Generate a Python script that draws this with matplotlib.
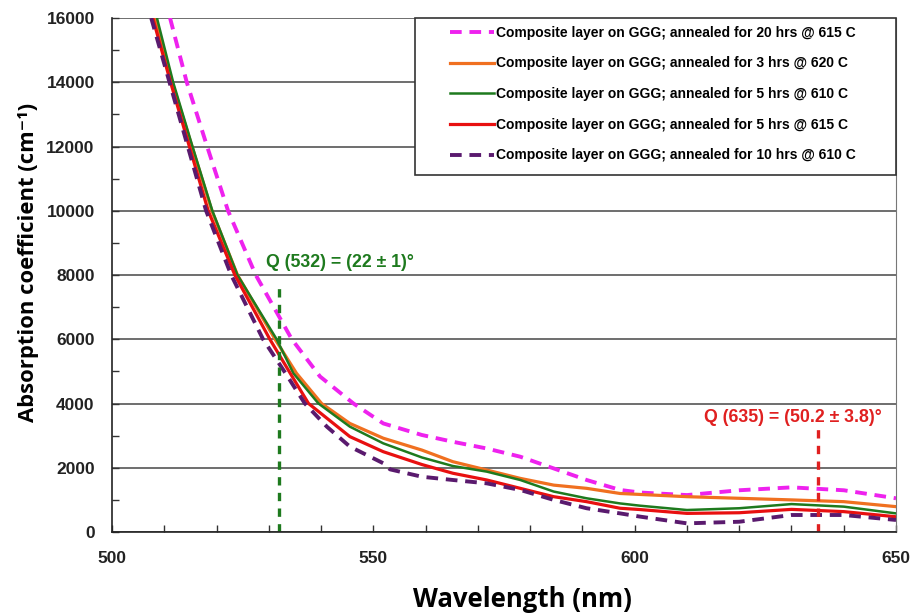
"""Absorption coefficient vs wavelength for annealed composite layers."""

import matplotlib

matplotlib.use("Agg")
import matplotlib.pyplot as plt
from matplotlib.patches import Rectangle
from matplotlib.ticker import MultipleLocator

plt.rcParams["font.family"] = ["Liberation Sans", "DejaVu Sans"]

# 20 hrs @ 615 C (magenta dashed)
wl_20h = [511.1, 514.3, 518.2, 522.2, 527.5, 534.4, 539.8, 546.2, 551.9, 559.3, 565.2, 571.7,
          578.1, 584.5, 590.8, 597.2, 601, 610, 620, 630, 640, 650]
ac_20h = [16000, 14000, 12000, 10000, 8000, 6000, 4840, 4000, 3380, 3020, 2810, 2600,
          2345, 1980, 1620, 1310, 1230, 1150, 1300, 1390, 1300, 1050]

# 3 hrs @ 620 C (orange)
wl_3h = [508.2, 511.5, 515.3, 519.1, 524.0, 531.2, 535.3, 540.1, 545.5, 551.9, 559.3, 565.2,
         571.7, 578.1, 584.5, 590.8, 597.2, 601, 610, 620, 630, 640, 650]
ac_3h = [16000, 14000, 12000, 10000, 8000, 6000, 4940, 4000, 3380, 2920, 2550, 2190,
         1930, 1670, 1460, 1360, 1200, 1170, 1100, 1050, 1000, 945, 790]

# 5 hrs @ 610 C (green)
wl_5h610 = [508.6, 511.7, 515.4, 519.2, 524.0, 531.5, 534.7, 539.5, 545.5, 551.9, 559.3, 565.2,
            571.7, 578.1, 584.5, 590.8, 597.2, 601, 610, 620, 630, 640, 650]
ac_5h610 = [16000, 14000, 12000, 10000, 8000, 6000, 4940, 4000, 3280, 2760, 2320, 2055,
            1880, 1620, 1260, 1050, 890, 820, 685, 740, 870, 790, 580]

# 5 hrs @ 615 C (red)
wl_5h615 = [507.8, 511.2, 514.8, 518.4, 523.5, 530.2, 534.1, 537.6, 545.5, 551.9, 559.3, 565.2,
            571.7, 578.1, 584.5, 590.8, 597.2, 601, 610, 620, 630, 640, 650]
ac_5h615 = [16000, 14000, 12000, 10000, 8000, 6000, 4940, 4000, 2970, 2500, 2100, 1830,
            1620, 1360, 1100, 945, 740, 700, 580, 600, 705, 635, 475]

# 10 hrs @ 610 C (purple dashed)
wl_10h = [507.5, 511, 514.5, 518, 522.8, 528.9, 533.2, 536.9, 541.1, 545.5, 551.9, 553.2,
          559.3, 565.2, 571.7, 578.1, 584.5, 590.8, 597.2, 601, 610, 620, 630, 640, 650]
ac_10h = [16000, 14000, 12000, 10000, 8000, 6000, 4940, 4000, 3280, 2660, 2140, 1950,
          1720, 1620, 1515, 1310, 1000, 740, 580, 480, 270, 320, 530, 530, 375]

labels = [
    "Composite layer on GGG; annealed for 20 hrs @ 615 C",
    "Composite layer on GGG; annealed for 3 hrs @ 620 C",
    "Composite layer on GGG; annealed for 5 hrs @ 610 C",
    "Composite layer on GGG; annealed for 5 hrs @ 615 C",
    "Composite layer on GGG; annealed for 10 hrs @ 610 C",
]

# marked wavelengths, heights of the dashed markers and their notes
q_wl = [532, 635]
q_top = [7780, 3280]
q_text = ["Q (532) = (22 ± 1)°", "Q (635) = (50.2 ± 3.8)°"]

fig = plt.figure(figsize=(9.13, 6.13), dpi=100, facecolor="white")
ax = fig.add_axes([0.1227, 0.1321, 0.8587, 0.8385])

ax.yaxis.grid(True, color="#555555", linewidth=1.2)
ax.set_axisbelow(True)

dash = (3.0, 2.0)
ax.plot(wl_20h, ac_20h, color="#ee22ee", lw=2.8, dashes=dash, label=labels[0])
ax.plot(wl_3h, ac_3h, color="#f07020", lw=2.3, label=labels[1])
ax.plot(wl_5h610, ac_5h610, color="#1e7a1e", lw=1.8, label=labels[2])
ax.plot(wl_5h615, ac_5h615, color="#e81010", lw=2.3, label=labels[3])
ax.plot(wl_10h, ac_10h, color="#5a1a6e", lw=2.8, dashes=dash, label=labels[4])

q_colors = ["#1e7a1e", "#e02020"]
ax.vlines(q_wl, 0, q_top, colors=q_colors, linestyles=(0, (2.5, 2.2)), lw=2.4)
ax.text(q_wl[0] - 2.5, 8400, q_text[0], color=q_colors[0],
        fontsize=12.8, fontweight="bold", ha="left", va="center")
ax.text(q_wl[1] + 12.3, 3550, q_text[1], color=q_colors[1],
        fontsize=12.8, fontweight="bold", ha="right", va="center")

ax.set_xlim(500, 650)
ax.set_ylim(0, 16000)
ax.xaxis.set_major_locator(MultipleLocator(50))
ax.xaxis.set_minor_locator(MultipleLocator(10))
ax.yaxis.set_major_locator(MultipleLocator(2000))
ax.yaxis.set_minor_locator(MultipleLocator(1000))
ax.tick_params(which="both", direction="in", length=5, width=1, color="#333333",
               top=False, right=False)
ax.tick_params(axis="y", labelsize=12.5, labelcolor="#222222", pad=12.5)
ax.tick_params(axis="x", labelsize=12.5, labelcolor="#222222", pad=14)
for t in ax.get_xticklabels() + ax.get_yticklabels():
    t.set_fontweight("bold")

for side in ("left", "bottom"):
    ax.spines[side].set_color("#222222")
    ax.spines[side].set_linewidth(1.2)
ax.spines["top"].set_visible(False)
ax.spines["right"].set_color("#777777")

ax.set_xlabel("Wavelength (nm)", fontsize=18.5, family=["Open Sans", "DejaVu Sans"],
              fontweight="bold", labelpad=14)
ax.xaxis.label.set_x(0.524)
ax.set_ylabel("Absorption coefficient (cm⁻¹)", fontsize=15.8,
              family=["Open Sans", "DejaVu Sans"], fontweight="bold", labelpad=5)
ax.yaxis.label.set_y(0.525)

# legend box drawn separately so the padding matches the original
ax.add_patch(Rectangle((0.386, 0.695), 0.614, 0.305, transform=ax.transAxes,
                       facecolor="white", edgecolor="#333333", lw=1.2,
                       clip_on=False, zorder=4))
leg = ax.legend(loc="upper left", bbox_to_anchor=(0.431, 0.985),
                prop={"weight": "bold", "size": 10}, handlelength=3.2,
                handletextpad=0.1, labelspacing=1.2, borderpad=0,
                borderaxespad=0, frameon=False)
leg.set_zorder(5)

fig.savefig("out.png", dpi=100, facecolor="white")
